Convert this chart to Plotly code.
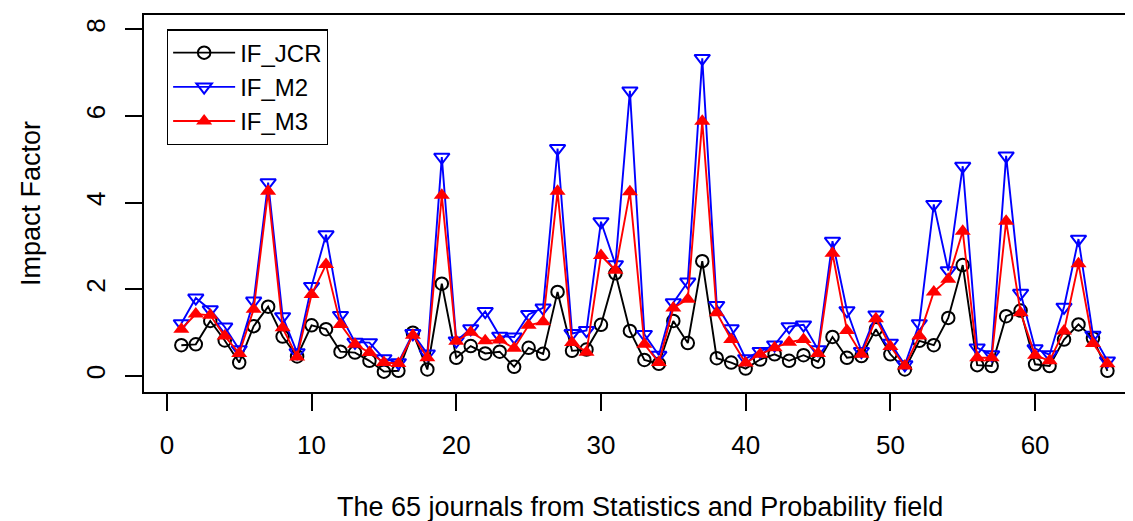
import plotly.graph_objects as go

# journal index 1..65
journals = list(range(1, 66))

if_jcr = [0.71, 0.73, 1.27, 0.82, 0.31, 1.15, 1.60, 0.91, 0.45, 1.17,
          1.08, 0.56, 0.54, 0.35, 0.10, 0.12, 1.00, 0.15, 2.13, 0.42,
          0.69, 0.52, 0.56, 0.21, 0.65, 0.51, 1.94, 0.58, 0.61, 1.18,
          2.37, 1.04, 0.37, 0.28, 1.27, 0.76, 2.65, 0.41, 0.31, 0.17,
          0.38, 0.50, 0.35, 0.48, 0.33, 0.90, 0.42, 0.46, 1.08, 0.50,
          0.15, 0.81, 0.71, 1.34, 2.56, 0.25, 0.23, 1.38, 1.51, 0.27,
          0.23, 0.84, 1.19, 0.87, 0.12]

if_m2 = [1.21, 1.80, 1.53, 1.13, 0.61, 1.73, 4.46, 1.37, 0.54, 2.07,
         3.26, 1.40, 0.78, 0.77, 0.40, 0.31, 0.98, 0.51, 5.05, 0.81,
         1.09, 1.49, 0.92, 0.90, 1.42, 1.57, 5.25, 0.98, 1.05, 3.56,
         2.57, 6.58, 0.96, 0.48, 1.69, 2.17, 7.33, 1.63, 1.09, 0.40,
         0.57, 0.72, 1.14, 1.18, 0.61, 3.11, 1.51, 0.57, 1.41, 0.76,
         0.26, 1.21, 3.96, 2.43, 4.84, 0.65, 0.49, 5.08, 1.91, 0.63,
         0.49, 1.59, 3.16, 0.94, 0.35]

if_m3 = [1.08, 1.43, 1.40, 0.92, 0.52, 1.54, 4.26, 1.11, 0.44, 1.88,
         2.57, 1.19, 0.73, 0.54, 0.31, 0.29, 0.94, 0.42, 4.17, 0.80,
         1.01, 0.81, 0.83, 0.64, 1.17, 1.25, 4.26, 0.77, 0.55, 2.78,
         2.44, 4.25, 0.73, 0.31, 1.57, 1.77, 5.88, 1.46, 0.84, 0.30,
         0.50, 0.65, 0.78, 0.84, 0.52, 2.83, 1.05, 0.50, 1.32, 0.68,
         0.23, 0.92, 1.94, 2.23, 3.34, 0.42, 0.42, 3.57, 1.46, 0.48,
         0.35, 1.04, 2.59, 0.75, 0.28]

x_ticks = [0, 10, 20, 30, 40, 50, 60]
y_ticks = [0, 2, 4, 6, 8]

FONT = "Liberation Sans"

fig = go.Figure()
fig.add_trace(go.Scatter(x=journals, y=if_jcr, name="IF_JCR", mode="lines+markers",
                         line=dict(color="black", width=1.9),
                         marker=dict(symbol="circle-open", size=12.5, color="black",
                                     line=dict(width=2, color="black"))))
fig.add_trace(go.Scatter(x=journals, y=if_m2, name="IF_M2", mode="lines+markers",
                         line=dict(color="blue", width=1.9),
                         marker=dict(symbol="triangle-down-open", size=13.5, color="blue",
                                     line=dict(width=2, color="blue"))))
fig.add_trace(go.Scatter(x=journals, y=if_m3, name="IF_M3", mode="lines+markers",
                         line=dict(color="red", width=1.9),
                         marker=dict(symbol="triangle-up", size=14, color="red",
                                     line=dict(width=0, color="red"))))

fig.update_layout(
    width=1133, height=521,
    margin=dict(l=136, r=0, t=7, b=137),
    paper_bgcolor="white", plot_bgcolor="white",
    font=dict(family=FONT, size=26, color="black"),
    showlegend=True,
    legend=dict(x=0.023, y=0.962, xanchor="left", yanchor="top",
                bordercolor="black", borderwidth=1.2, bgcolor="white",
                font=dict(size=24), itemwidth=62, tracegroupgap=0),
    annotations=[
        dict(text="The 65 journals from Statistics and Probability field",
             xref="paper", yref="paper", x=0.497, y=-0.305,
             xanchor="center", yanchor="middle", showarrow=False,
             font=dict(size=27)),
        dict(text="Impact Factor", xref="paper", yref="paper",
             x=-0.1138, y=0.5, xanchor="center", yanchor="middle",
             textangle=-90, showarrow=False, font=dict(size=27)),
    ],
)

fig.update_xaxes(range=[-1.58, 67.32], tickvals=x_ticks, showgrid=False, zeroline=False,
                 showline=True, linecolor="black", linewidth=2, mirror=True,
                 ticks="outside", ticklen=17, tickwidth=2, tickcolor="black",
                 ticklabelstandoff=12)
fig.update_yaxes(range=[-0.37, 8.33], tickvals=y_ticks, showgrid=False, zeroline=False,
                 showline=True, linecolor="black", linewidth=2,
                 ticks="outside", ticklen=17, tickwidth=2, tickcolor="black",
                 tickangle=-90, ticklabelstandoff=10)

fig.write_html("out.html")
